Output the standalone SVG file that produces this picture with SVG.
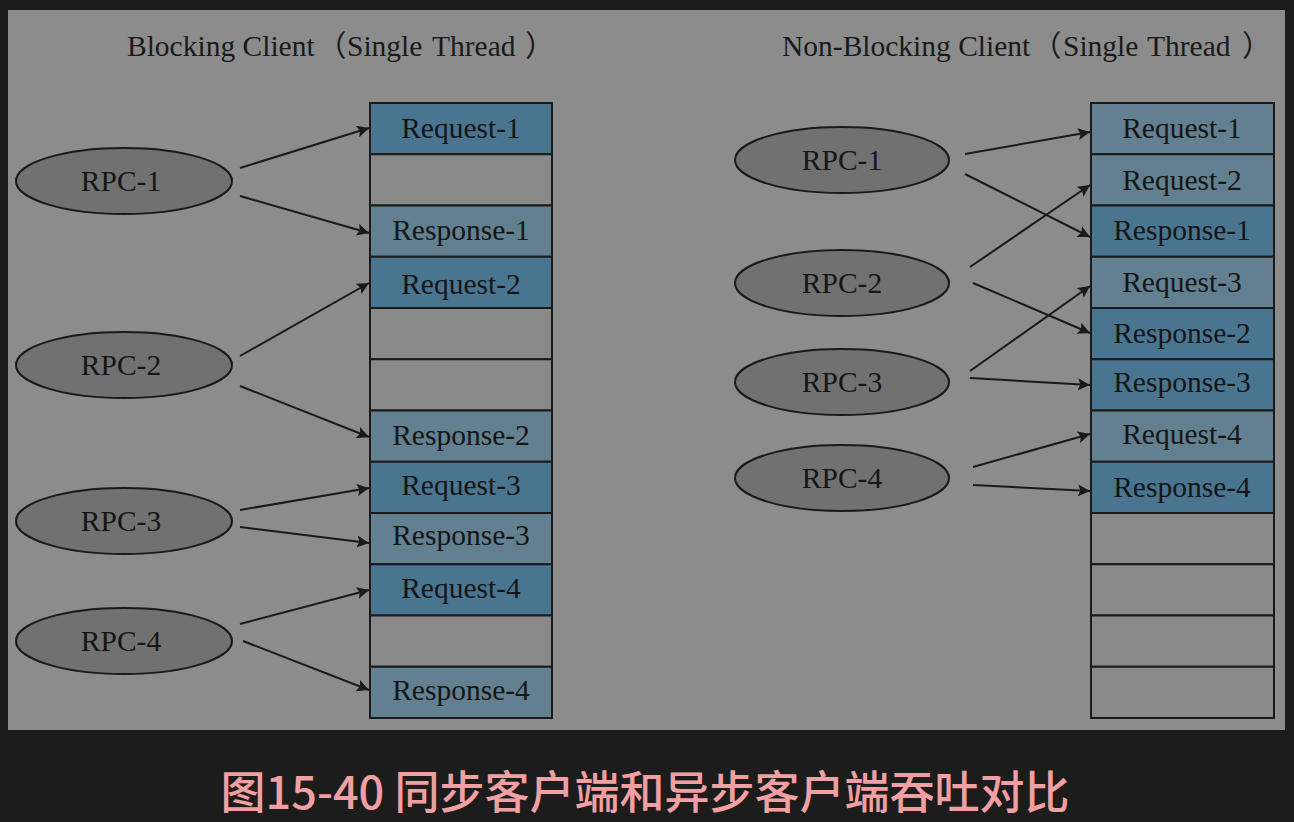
<svg xmlns="http://www.w3.org/2000/svg" width="1294" height="822" viewBox="0 0 1294 822">
<defs>
<style>
.t{font-family:"Liberation Serif","Noto Sans CJK SC",serif;font-size:29.5px;fill:#1a1a1a}
.c{font-family:"Liberation Serif",serif;font-size:29.5px;fill:#161616;text-anchor:middle}
.rq{fill:#4a7590;stroke:#1a1a1a;stroke-width:2}
.rs{fill:#62808f;stroke:#1a1a1a;stroke-width:2}
.em{fill:#898989;stroke:#1a1a1a;stroke-width:2}
.el{fill:#717171;stroke:#1a1a1a;stroke-width:2}
.ar{stroke:#1a1a1a;stroke-width:2;fill:none;marker-end:url(#ah)}
</style>
<marker id="ah" viewBox="0 0 10 10" refX="10" refY="5" markerWidth="6" markerHeight="6" markerUnits="strokeWidth" orient="auto">
<path d="M0,0 L10,5 L0,10 L2,5 z" fill="#1a1a1a"/>
</marker>
</defs>
<rect width="1294" height="822" fill="#1c1c1c"/>
<rect x="8" y="10" width="1277" height="720" fill="#8c8c8c"/>
<text class="t" x="127" y="56">Blocking Client<tspan x="317">（</tspan><tspan x="347">Single</tspan><tspan x="432">Thread</tspan><tspan x="525">）</tspan></text>
<text class="t" x="782" y="56">Non-Blocking Client<tspan x="1032">（</tspan><tspan x="1063">Single</tspan><tspan x="1147">Thread</tspan><tspan x="1242">）</tspan></text>

<g id="left-queue">
<rect class="rq" x="370" y="103" width="182" height="51.25"/><text class="c" x="461" y="138">Request-1</text>
<rect class="em" x="370" y="154.25" width="182" height="51.25"/>
<rect class="rs" x="370" y="205.5" width="182" height="51.25"/><text class="c" x="461" y="240">Response-1</text>
<rect class="rq" x="370" y="256.75" width="182" height="51.25"/><text class="c" x="461" y="294">Request-2</text>
<rect class="em" x="370" y="308" width="182" height="51.25"/>
<rect class="em" x="370" y="359.25" width="182" height="51.25"/>
<rect class="rs" x="370" y="410.5" width="182" height="51.25"/><text class="c" x="461" y="445">Response-2</text>
<rect class="rq" x="370" y="461.75" width="182" height="51.25"/><text class="c" x="461" y="495">Request-3</text>
<rect class="rs" x="370" y="513" width="182" height="51.25"/><text class="c" x="461" y="545">Response-3</text>
<rect class="rq" x="370" y="564.25" width="182" height="51.25"/><text class="c" x="461" y="598">Request-4</text>
<rect class="em" x="370" y="615.5" width="182" height="51.25"/>
<rect class="rs" x="370" y="666.75" width="182" height="51.25"/><text class="c" x="461" y="700">Response-4</text>
</g>

<g id="right-queue">
<rect class="rs" x="1091" y="103" width="183" height="51.25"/><text class="c" x="1182" y="138">Request-1</text>
<rect class="rs" x="1091" y="154.25" width="183" height="51.25"/><text class="c" x="1182" y="190">Request-2</text>
<rect class="rq" x="1091" y="205.5" width="183" height="51.25"/><text class="c" x="1182" y="240">Response-1</text>
<rect class="rs" x="1091" y="256.75" width="183" height="51.25"/><text class="c" x="1182" y="292">Request-3</text>
<rect class="rq" x="1091" y="308" width="183" height="51.25"/><text class="c" x="1182" y="343">Response-2</text>
<rect class="rq" x="1091" y="359.25" width="183" height="51.25"/><text class="c" x="1182" y="392">Response-3</text>
<rect class="rs" x="1091" y="410.5" width="183" height="51.25"/><text class="c" x="1182" y="444">Request-4</text>
<rect class="rq" x="1091" y="461.75" width="183" height="51.25"/><text class="c" x="1182" y="497">Response-4</text>
<rect class="em" x="1091" y="513" width="183" height="51.25"/>
<rect class="em" x="1091" y="564.25" width="183" height="51.25"/>
<rect class="em" x="1091" y="615.5" width="183" height="51.25"/>
<rect class="em" x="1091" y="666.75" width="183" height="51.25"/>
</g>

<g id="l-rpc1"><ellipse class="el" cx="124" cy="181" rx="108" ry="33"/><text class="c" x="121" y="191">RPC-1</text></g>
<g id="l-rpc2"><ellipse class="el" cx="124" cy="365" rx="108" ry="33"/><text class="c" x="121" y="375">RPC-2</text></g>
<g id="l-rpc3"><ellipse class="el" cx="124" cy="521" rx="108" ry="33"/><text class="c" x="121" y="531">RPC-3</text></g>
<g id="l-rpc4"><ellipse class="el" cx="124" cy="641" rx="108" ry="33"/><text class="c" x="121" y="651">RPC-4</text></g>

<g id="r-rpc1"><ellipse class="el" cx="842" cy="160" rx="107" ry="33"/><text class="c" x="842" y="170">RPC-1</text></g>
<g id="r-rpc2"><ellipse class="el" cx="842" cy="283" rx="107" ry="33"/><text class="c" x="842" y="293">RPC-2</text></g>
<g id="r-rpc3"><ellipse class="el" cx="842" cy="382" rx="107" ry="33"/><text class="c" x="842" y="392">RPC-3</text></g>
<g id="r-rpc4"><ellipse class="el" cx="842" cy="478" rx="107" ry="33"/><text class="c" x="842" y="488">RPC-4</text></g>

<g id="connectors">
<line class="ar" x1="240" y1="168" x2="369" y2="128"/>
<line class="ar" x1="240" y1="196" x2="369" y2="233"/>
<line class="ar" x1="240" y1="356" x2="369" y2="283"/>
<line class="ar" x1="240" y1="386" x2="369" y2="437"/>
<line class="ar" x1="240" y1="510" x2="369" y2="488"/>
<line class="ar" x1="240" y1="527" x2="369" y2="543"/>
<line class="ar" x1="240" y1="624" x2="369" y2="590"/>
<line class="ar" x1="243" y1="641" x2="369" y2="690"/>
<line class="ar" x1="965" y1="154" x2="1090" y2="132"/>
<line class="ar" x1="965" y1="174" x2="1090" y2="237"/>
<line class="ar" x1="970" y1="267" x2="1090" y2="185"/>
<line class="ar" x1="973" y1="283" x2="1090" y2="333"/>
<line class="ar" x1="970" y1="371" x2="1090" y2="286"/>
<line class="ar" x1="970" y1="378" x2="1090" y2="385"/>
<line class="ar" x1="973" y1="467" x2="1090" y2="434"/>
<line class="ar" x1="973" y1="485" x2="1090" y2="491"/>
</g>

<text x="645" y="809" style="font-family:'Noto Sans CJK SC',sans-serif;font-size:45px;font-weight:500;fill:#f0a0a2;text-anchor:middle">图15-40 同步客户端和异步客户端吞吐对比</text>
</svg>
